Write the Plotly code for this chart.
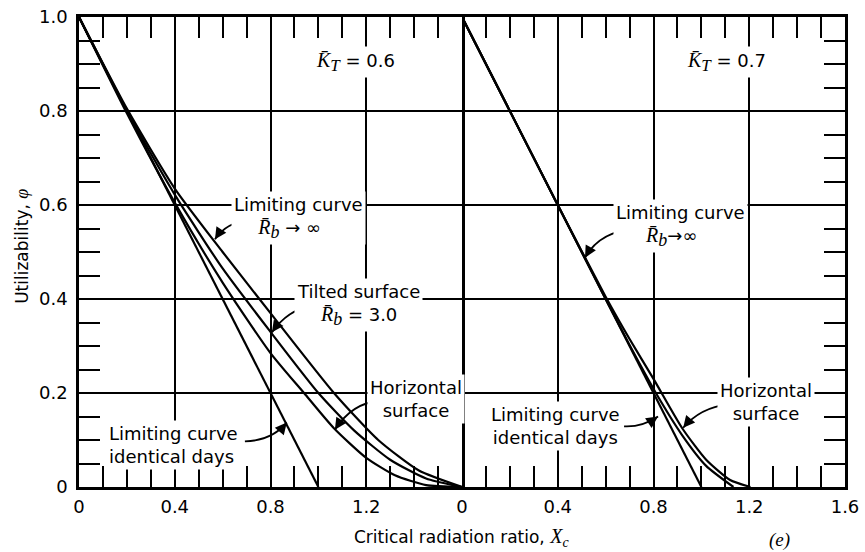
import math
import plotly.graph_objects as go

# ---- dados (phi x Xc) ----
# painel esquerdo: K_T = 0.6
x_ident_06 = [0.0, 1.0]
phi_ident_06 = [1.0, 0.0]

x_horiz_06 = [0.0, 0.2, 0.4, 0.6, 0.8, 0.94, 1.065, 1.2, 1.32, 1.45, 1.6]
phi_horiz_06 = [1.0, 0.795, 0.605, 0.435, 0.285, 0.2, 0.125, 0.062, 0.025, 0.004, 0.0]

x_tilt_06 = [0.0, 0.2, 0.4, 0.6, 0.8, 1.0, 1.15, 1.3, 1.45, 1.6]
phi_tilt_06 = [1.0, 0.8, 0.622, 0.465, 0.33, 0.2, 0.12, 0.058, 0.018, 0.0]

x_inf_06 = [0.0, 0.2, 0.4, 0.6, 0.8, 1.065, 1.25, 1.42, 1.6]
phi_inf_06 = [1.0, 0.805, 0.635, 0.5, 0.37, 0.2, 0.1, 0.035, 0.0]

# painel direito: K_T = 0.7
x_ident_07 = [0.0, 1.0]
phi_ident_07 = [1.0, 0.0]

x_inf_07 = [0.0, 0.4, 0.6, 0.7, 0.81, 0.92, 1.02, 1.134]
phi_inf_07 = [1.0, 0.6, 0.4, 0.302, 0.2, 0.11, 0.045, 0.0]

x_horiz_07 = [0.0, 0.4, 0.6, 0.7, 0.8, 0.92, 1.02, 1.12, 1.205]
phi_horiz_07 = [1.0, 0.6, 0.405, 0.315, 0.23, 0.125, 0.058, 0.015, 0.0]

ticks_left = [0, 0.4, 0.8, 1.2]
ticks_right = [0, 0.4, 0.8, 1.2, 1.6]
ticks_y = [0, 0.2, 0.4, 0.6, 0.8, 1.0]

SANS = "DejaVu Sans"
SERIF = "Liberation Serif"
PRETO = "black"

W, H = 865, 552
ML, MR, MT, MB = 79, 20, 17, 65
PX_X = (W - ML - MR) / 2 / 1.6   # pixels por unidade de Xc
PX_Y = (H - MT - MB) / 1.0       # pixels por unidade de phi
NB = "\u00a0"


def it(s, size=20):
    return f'<span style="font-family:{SERIF};font-size:{size}px"><i>{s}</i></span>'


fig = go.Figure()

curvas = [
    (x_ident_06, phi_ident_06, "x", "y"),
    (x_horiz_06, phi_horiz_06, "x", "y"),
    (x_tilt_06, phi_tilt_06, "x", "y"),
    (x_inf_06, phi_inf_06, "x", "y"),
    (x_ident_07, phi_ident_07, "x2", "y2"),
    (x_inf_07, phi_inf_07, "x2", "y2"),
    (x_horiz_07, phi_horiz_07, "x2", "y2"),
]
for xs, ys, xa, ya in curvas:
    fig.add_trace(go.Scatter(
        x=xs, y=ys, xaxis=xa, yaxis=ya, mode="lines",
        line=dict(color=PRETO, width=2.2, shape="spline", smoothing=0.6),
        showlegend=False, hoverinfo="skip"
    ))

eixo_x = dict(
    range=[0, 1.6], showgrid=True, gridcolor=PRETO, gridwidth=1.5,
    showline=True, linecolor=PRETO, linewidth=2.5, mirror="ticks",
    ticks="inside", ticklen=21, tickwidth=1.5, tickcolor=PRETO,
    tickfont=dict(family=SANS, size=18, color=PRETO), zeroline=False,
    minor=dict(dtick=0.1, tick0=0, ticks="inside", ticklen=21, tickwidth=1.5,
               tickcolor=PRETO, showgrid=False),
    ticklabelstandoff=2, automargin=False, ticklabeloverflow="allow",
)
eixo_y = dict(
    range=[0, 1.0], tickvals=ticks_y, ticktext=["0", "0.2", "0.4", "0.6", "0.8", "1.0"],
    showgrid=True, gridcolor=PRETO, gridwidth=1.5,
    showline=True, linecolor=PRETO, linewidth=2.5,
    ticks="inside", ticklen=21, tickwidth=1.5, tickcolor=PRETO,
    tickfont=dict(family=SANS, size=18, color=PRETO), zeroline=False,
    minor=dict(dtick=0.05, tick0=0, ticks="inside", ticklen=21, tickwidth=1.5,
               tickcolor=PRETO, showgrid=False),
    automargin=False, ticklabeloverflow="allow",
)

fig.update_layout(
    width=W, height=H,
    margin=dict(l=ML, r=MR, t=MT, b=MB, autoexpand=False),
    paper_bgcolor="white", plot_bgcolor="white",
    xaxis=dict(eixo_x, domain=[0, 0.5], anchor="y", tickvals=ticks_left,
               ticktext=["0", "0.4", "0.8", "1.2"]),
    xaxis2=dict(eixo_x, domain=[0.5, 1], anchor="y2", tickvals=ticks_right,
                ticktext=["0", "0.4", "0.8", "1.2", "1.6"]),
    yaxis=dict(eixo_y, anchor="x", mirror=True, ticklabelstandoff=5),
    yaxis2=dict(eixo_y, anchor="x2", matches="y", side="right",
                showticklabels=False),
)

KT = it("K\u0304") + "<sub>" + it("T", 17) + "</sub>"
RB = it("R\u0304") + "<sub>" + it("b", 18) + "</sub>"

# (texto, x, y, eixo x, ancora/alinhamento)
rotulos = [
    (KT + " = 0.6", 1.157, 0.905, "x", "center"),
    ("Limiting curve<br>" + RB + " \u2192 \u221e" + NB * 3, 0.917, 0.573, "x", "center"),
    ("Tilted surface<br>" + RB + " = 3.0", 1.168, 0.388, "x", "center"),
    ("Horizontal<br>surface", 1.406, 0.188, "x", "center"),
    ("Limiting curve<br>identical days", 0.114, 0.0886, "x", "left"),
    (KT + " = 0.7", 1.105, 0.905, "x2", "center"),
    ("Limiting curve<br>" + RB + "\u2192\u221e" + NB * 3, 0.913, 0.555, "x2", "center"),
    ("Horizontal<br>surface", 1.268, 0.180, "x2", "center"),
    ("Limiting curve<br>identical days", 0.391, 0.130, "x2", "center"),
]
for txt, xx, yy, xr, al in rotulos:
    fig.add_annotation(
        text=txt, x=xx, y=yy, xref=xr, yref="y", showarrow=False,
        xanchor=al, align=al, yanchor="middle", bgcolor="white", borderpad=2,
        font=dict(family=SANS, size=18, color=PRETO)
    )

# setas curvas: (cauda, controle, ponta) em coordenadas dos eixos
setas = [
    ((0.714, 0.569), (0.614, 0.563), (0.568, 0.527), "x"),
    ((0.972, 0.385), (0.873, 0.378), (0.806, 0.329), "x"),
    ((1.250, 0.183), (1.140, 0.178), (1.069, 0.122), "x"),
    ((0.693, 0.097), (0.806, 0.099), (0.868, 0.137), "x"),
    ((0.723, 0.549), (0.576, 0.544), (0.514, 0.488), "x2"),
    ((1.112, 0.176), (0.994, 0.169), (0.924, 0.126), "x2"),
    ((0.677, 0.129), (0.752, 0.127), (0.819, 0.150), "x2"),
]
for (tx, ty), (cx, cy), (hx, hy), xr in setas:
    fig.add_shape(
        type="path", xref=xr, yref="y",
        path=f"M {tx},{ty} Q {cx},{cy} {hx},{hy}",
        line=dict(color=PRETO, width=1.8)
    )
    # ponta da seta na direcao da tangente final
    dx = (cx - hx) * PX_X
    dy = -(cy - hy) * PX_Y
    n = math.hypot(dx, dy)
    fig.add_annotation(
        x=hx, y=hy, xref=xr, yref="y", ax=dx / n * 9, ay=dy / n * 9,
        text="", showarrow=True, arrowhead=2, arrowsize=1.3, arrowwidth=1.8,
        arrowcolor=PRETO
    )
    fig.add_annotation(
        x=tx, y=ty, xref=xr, yref="y", text="", showarrow=True,
        ax=(cx - tx) * PX_X * 0.01, ay=-(cy - ty) * PX_Y * 0.01,
        arrowhead=0, arrowwidth=4.5, arrowcolor=PRETO, standoff=0
    )

fig.add_annotation(
    text="Utilizability, " + it("\u03c6", 18), textangle=-90,
    x=-0.0744, y=0.511, xref="paper", yref="paper", showarrow=False,
    xanchor="center", yanchor="middle",
    font=dict(family=SANS, size=17, color=PRETO)
)
fig.add_annotation(
    text="Critical radiation ratio, " + it("X<sub>c</sub>"),
    x=0.4987, y=-0.1085, xref="paper", yref="paper", showarrow=False,
    xanchor="center", yanchor="middle",
    font=dict(family=SANS, size=17, color=PRETO)
)
fig.add_annotation(
    text=it("(e)", 19), x=0.915, y=-0.113, xref="paper", yref="paper",
    showarrow=False, xanchor="center", yanchor="middle",
    font=dict(family=SANS, size=18, color=PRETO)
)

# tira a margem padrao do body para a figura ocupar a janela toda
fig.write_html("out.html", config={"displayModeBar": False},
               post_script="document.body.style.margin='0';")
